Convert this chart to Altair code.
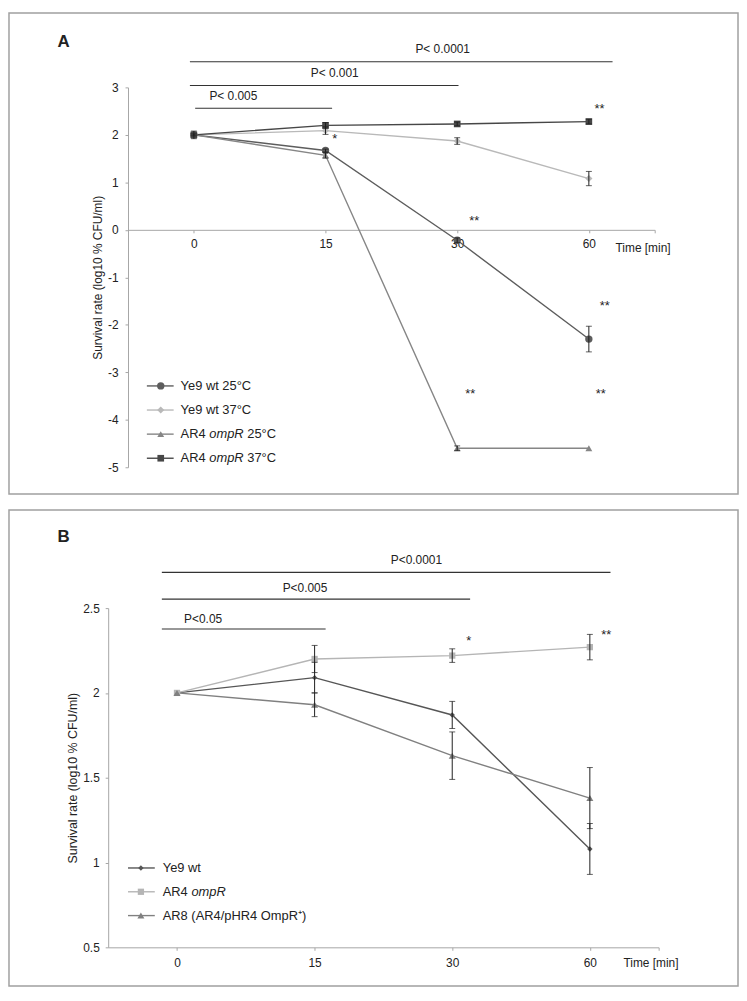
import json
import altair as alt
import pandas as pd

FONT = "Liberation Sans"
TXT = "#222222"
AXC = "#a6a6a6"
ERRC = "#1e1e1e"
FRAME = "#a0a0a0"

time_labels = ["0", "15", "30", "60"]

# ---------------- Panel A data ----------------
a_names = ["Ye9 wt 25°C", "Ye9 wt 37°C", "AR4 ompR 25°C", "AR4 ompR 37°C"]
a_ye9_25 = [2.00, 1.67, -0.22, -2.30]
a_ye9_25_err = [0.02, 0.03, 0.05, 0.27]
a_ye9_37 = [2.00, 2.09, 1.87, 1.08]
a_ye9_37_err = [0.0, 0.08, 0.07, 0.15]
a_ar4_25 = [2.00, 1.57, -4.60, -4.60]
a_ar4_25_err = [0.0, 0.06, 0.05, 0.0]
a_ar4_37 = [2.00, 2.20, 2.23, 2.28]
a_ar4_37_err = [0.08, 0.06, 0.04, 0.05]
a_colors = ["#5d5d5d", "#b9b9b9", "#868686", "#474747"]
a_shapes = ["circle", "diamond", "triangle-up", "square"]
a_sizes = [55, 45, 50, 50]
a_yticks = [-5, -4, -3, -2, -1, 0, 1, 2, 3]

a_p_labels = ["P< 0.0001", "P< 0.001", "P< 0.005"]
a_p_x0 = [-0.03, -0.03, 0.01]
a_p_x1 = [3.18, 2.01, 1.05]
a_p_y = [3.54, 3.04, 2.56]
a_p_tx = [1.89, 1.07, 0.30]
a_p_ty = [3.81, 3.31, 2.81]

a_star_text = ["*", "**", "**", "**", "**", "**"]
a_star_x = [1.07, 3.08, 2.13, 3.12, 2.10, 3.09]
a_star_y = [1.98, 2.62, 0.26, -1.53, -3.39, -3.39]

a_leg_plain = ["Ye9 wt 25°C", "Ye9 wt 37°C", "AR4 ", "AR4 "]
a_leg_ital = ["", "", "ompR", "ompR"]
a_leg_tail = ["", "", "25°C", "37°C"]

# ---------------- Panel B data ----------------
b_names = ["Ye9 wt", "AR4 ompR", "AR8 (AR4/pHR4 OmpR+)"]
b_ye9 = [2.00, 2.09, 1.87, 1.08]
b_ye9_err = [0.0, 0.09, 0.08, 0.15]
b_ar4 = [2.00, 2.20, 2.22, 2.27]
b_ar4_err = [0.0, 0.08, 0.04, 0.075]
b_ar8 = [2.00, 1.93, 1.63, 1.38]
b_ar8_err = [0.0, 0.07, 0.14, 0.18]
b_colors = ["#565656", "#b5b5b5", "#808080"]
b_shapes = ["diamond", "square", "triangle-up"]
b_sizes = [30, 50, 50]
b_yticks = [0.5, 1, 1.5, 2, 2.5]

b_p_labels = ["P<0.0001", "P<0.005", "P<0.05"]
b_p_x0 = [-0.11, -0.11, -0.11]
b_p_x1 = [3.15, 2.13, 1.08]
b_p_y = [2.711, 2.553, 2.377]
b_p_tx = [1.74, 0.93, 0.19]
b_p_ty = [2.781, 2.617, 2.436]

b_star_text = ["*", "**"]
b_star_x = [2.12, 3.12]
b_star_y = [2.325, 2.36]

b_leg_plain = ["Ye9 wt", "AR4 ", "AR8 (AR4/pHR4 OmpR\u207a)"]
b_leg_ital = ["", "ompR", ""]
b_leg_tail = ["", "", ""]

# Arial / Liberation Sans advance widths (em)
_W = {"A": .667, "R": .722, "4": .556, " ": .278, "o": .556, "m": .833, "p": .556}


def text_w(s, size):
    return sum(_W.get(c, 0.556) for c in s) * size


def long_df(names, values, errs):
    rows = []
    for n, vals, es in zip(names, values, errs):
        for i, (v, e) in enumerate(zip(vals, es)):
            rows.append(dict(series=n, xi=i, value=v, lo=v - e, hi=v + e, err=e))
    return pd.DataFrame(rows)


def legend_df(names, plain, ital, tail, geom, fsize):
    rows = []
    for r, (n, a, b, c) in enumerate(zip(names, plain, ital, tail)):
        y = geom["y0"] + r * geom["dy"]
        xi = geom["xt"] + text_w(a, fsize)
        xt2 = xi + text_w(b, fsize) + text_w(" ", fsize)
        rows.append(dict(series=n, plain=a, ital=b, tail=c, ly=y,
                         lx0=geom["x0"], lx1=geom["x1"], lxm=geom["xm"],
                         lxt=geom["xt"], lxi=xi, lxt2=xt2))
    return pd.DataFrame(rows)


def make_panel(letter, names, values, errs, colors, shapes, sizes, ydom, yticks,
               xr, yr, W, H, ylab_pad, ytitle_pad, ytitle_size, xlab_pad, xtitle_x, xtitle_y,
               p_labels, p_x0, p_x1, p_y, p_tx, p_ty, st_text, st_x, st_y,
               leg_plain, leg_ital, leg_tail, leg_geom, letter_xy):
    df = long_df(names, values, errs)
    edf = df[df["err"] > 0]
    xs = alt.Scale(domain=[-0.5, 3.5], range=xr, nice=False, zero=False)
    ys = alt.Scale(domain=ydom, range=yr, nice=False, zero=False)
    col = alt.Color("series:N", scale=alt.Scale(domain=names, range=colors), legend=None)
    shp = alt.Shape("series:N", scale=alt.Scale(domain=names, range=shapes), legend=None)
    siz = alt.Size("series:N", scale=alt.Scale(domain=names, range=sizes), legend=None)

    # pixel row of the x axis: value 0 if inside the domain, else the bottom
    base = 0 if ydom[0] < 0 < ydom[1] else ydom[0]
    ypix = yr[0] + (yr[1] - yr[0]) * (base - ydom[0]) / (ydom[1] - ydom[0])

    lab_expr = ("datum.value == 3.5 ? '' : " + json.dumps(time_labels).replace('"', "'")
                + "[datum.value]")
    xaxis = alt.Axis(values=[0, 1, 2, 3, 3.5], labelExpr=lab_expr, offset=-(H - ypix),
                     grid=False, domainColor=AXC, tickColor=AXC, tickSize=3,
                     labelPadding=xlab_pad, labelFontSize=12, labelColor=TXT,
                     labelFlush=False, labelOverlap=False,
                     title="Time [min]", titleX=xtitle_x, titleY=xtitle_y,
                     titleAlign="left", titleBaseline="alphabetic", titleAngle=0,
                     titleFontSize=12, titleFontWeight="normal", titleColor=TXT)
    yaxis = alt.Axis(values=yticks, labelExpr="datum.value + ''", offset=-xr[0],
                     grid=False, domainColor=AXC, tickColor=AXC, tickSize=3,
                     labelPadding=ylab_pad, labelFontSize=12, labelColor=TXT,
                     labelFlush=False, labelOverlap=False,
                     title="Survival rate (log10 % CFU/ml)", titlePadding=ytitle_pad,
                     titleFontSize=ytitle_size, titleFontWeight="normal", titleColor=TXT)

    X0 = alt.X("xi:Q", scale=xs, axis=xaxis)
    Y0 = alt.Y("value:Q", scale=ys, axis=yaxis)
    Xq = lambda f: alt.X(f, scale=xs)
    Yq = lambda f: alt.Y(f, scale=ys)

    lines = alt.Chart(df).mark_line(strokeWidth=1.4).encode(
        x=X0, y=Y0, color=col, detail="series:N", order="xi:Q")
    pts = alt.Chart(df).mark_point(filled=True, opacity=1).encode(
        x=Xq("xi:Q"), y=Yq("value:Q"), color=col, shape=shp, size=siz)
    ebar = alt.Chart(edf).mark_rule(color=ERRC, strokeWidth=1).encode(
        x=Xq("xi:Q"), y=Yq("lo:Q"), y2="hi:Q")
    ecap_lo = alt.Chart(edf).mark_tick(color=ERRC, orient="horizontal", size=6, thickness=1).encode(
        x=Xq("xi:Q"), y=Yq("lo:Q"))
    ecap_hi = alt.Chart(edf).mark_tick(color=ERRC, orient="horizontal", size=6, thickness=1).encode(
        x=Xq("xi:Q"), y=Yq("hi:Q"))

    pdf = pd.DataFrame(dict(label=p_labels, x0=p_x0, x1=p_x1, y=p_y, tx=p_tx, ty=p_ty))
    prule = alt.Chart(pdf).mark_rule(color="#333333", strokeWidth=1.2).encode(
        x=Xq("x0:Q"), x2="x1:Q", y=Yq("y:Q"))
    ptext = alt.Chart(pdf).mark_text(fontSize=12, color=TXT, baseline="middle", align="center").encode(
        x=Xq("tx:Q"), y=Yq("ty:Q"), text="label:N")

    sdf = pd.DataFrame(dict(t=st_text, x=st_x, y=st_y))
    stars = alt.Chart(sdf).mark_text(fontSize=13, color=TXT, baseline="middle", align="center",
                                     dy=3.5).encode(
        x=Xq("x:Q"), y=Yq("y:Q"), text="t:N")

    ldf = legend_df(names, leg_plain, leg_ital, leg_tail, leg_geom, 13)
    LY = alt.Y("ly:Q", scale=None, axis=None)
    lrule = alt.Chart(ldf).mark_rule(strokeWidth=1.4).encode(
        x=alt.X("lx0:Q", scale=None, axis=None), x2="lx1:Q", y=LY, color=col)
    lpt = alt.Chart(ldf).mark_point(filled=True, opacity=1).encode(
        x=alt.X("lxm:Q", scale=None, axis=None), y=LY, color=col, shape=shp, size=siz)
    ltxt = alt.Chart(ldf).mark_text(fontSize=13, color=TXT, baseline="middle", align="left").encode(
        x=alt.X("lxt:Q", scale=None, axis=None), y=LY, text="plain:N")
    lital = alt.Chart(ldf[ldf["ital"] != ""]).mark_text(
        fontSize=13, color=TXT, baseline="middle", align="left", fontStyle="italic").encode(
        x=alt.X("lxi:Q", scale=None, axis=None), y=LY, text="ital:N")
    ltail = alt.Chart(ldf[ldf["tail"] != ""]).mark_text(
        fontSize=13, color=TXT, baseline="middle", align="left").encode(
        x=alt.X("lxt2:Q", scale=None, axis=None), y=LY, text="tail:N")

    let = alt.Chart(pd.DataFrame({"t": [letter]})).mark_text(
        fontSize=17, fontWeight="bold", color=TXT, align="center", baseline="middle").encode(
        x=alt.value(letter_xy[0]), y=alt.value(letter_xy[1]), text="t:N")

    layers = [lines, pts, ebar, ecap_lo, ecap_hi, prule, ptext, stars, let,
              lrule, lpt, ltxt, lital]
    if len(ldf[ldf["tail"] != ""]):
        layers.append(ltail)
    return alt.layer(*layers).properties(width=W, height=H)


panel_a = make_panel(
    "A", a_names, [a_ye9_25, a_ye9_37, a_ar4_25, a_ar4_37],
    [a_ye9_25_err, a_ye9_37_err, a_ar4_25_err, a_ar4_37_err],
    a_colors, a_shapes, a_sizes, [-5, 3], a_yticks,
    xr=[120, 651], yr=[458, 75], W=735, H=485,
    ylab_pad=7, ytitle_pad=3, ytitle_size=12, xlab_pad=6, xtitle_x=611, xtitle_y=22,
    p_labels=a_p_labels, p_x0=a_p_x0, p_x1=a_p_x1, p_y=a_p_y, p_tx=a_p_tx, p_ty=a_p_ty,
    st_text=a_star_text, st_x=a_star_x, st_y=a_star_y,
    leg_plain=a_leg_plain, leg_ital=a_leg_ital, leg_tail=a_leg_tail,
    leg_geom=dict(x0=139, x1=166, xm=153, xt=173, y0=376, dy=24.3),
    letter_xy=(55, 29))

panel_b = make_panel(
    "B", b_names, [b_ye9, b_ar4, b_ar8], [b_ye9_err, b_ar4_err, b_ar8_err],
    b_colors, b_shapes, b_sizes, [0.5, 2.5], b_yticks,
    xr=[100, 655], yr=[441, 99], W=735, H=480,
    ylab_pad=6, ytitle_pad=3, ytitle_size=12.5, xlab_pad=7, xtitle_x=619, xtitle_y=19.5,
    p_labels=b_p_labels, p_x0=b_p_x0, p_x1=b_p_x1, p_y=b_p_y, p_tx=b_p_tx, p_ty=b_p_ty,
    st_text=b_star_text, st_x=b_star_x, st_y=b_star_y,
    leg_plain=b_leg_plain, leg_ital=b_leg_ital, leg_tail=b_leg_tail,
    leg_geom=dict(x0=120, x1=147, xm=133, xt=155, y0=361, dy=24),
    letter_xy=(55, 27))

chart = alt.vconcat(panel_a, panel_b, spacing=14).resolve_scale(
    color="independent", shape="independent", size="independent"
).properties(padding=0).configure(
    font=FONT).configure_view(stroke=FRAME, strokeWidth=1.5)

chart.save("out.html", embed_options={"renderer": "svg", "actions": False})
